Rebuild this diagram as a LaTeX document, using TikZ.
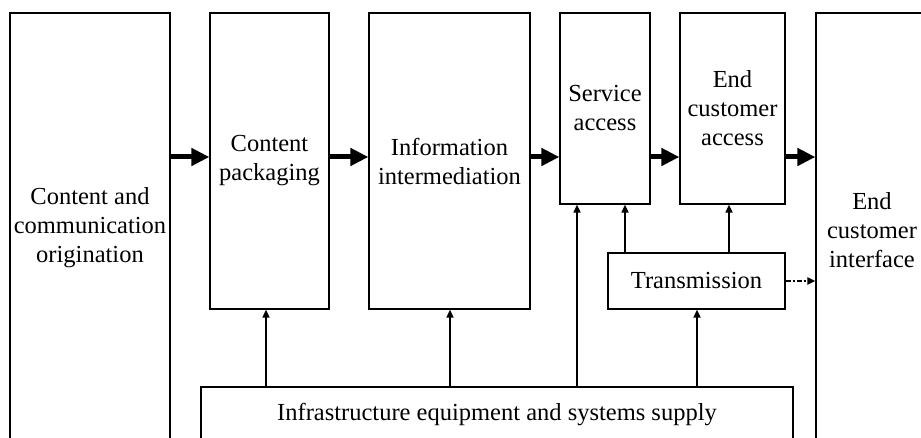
\documentclass[tikz,border=0pt]{standalone}
\usepackage{fontspec}
\setmainfont{Liberation Serif}
\usetikzlibrary{arrows.meta}
\begin{document}
\begin{tikzpicture}[x=1pt,y=-1pt,
  box/.style={draw, line width=1.2pt, align=center, inner sep=0pt, font=\fontsize{24.5}{29}\selectfont},
  thickarrow/.style={line width=5pt, -{Triangle[length=18pt,width=17pt]}},
  thinarrow/.style={line width=1.6pt, -{Triangle[length=8pt,width=7pt]}},
  dasharrow/.style={line width=2.2pt, dash pattern=on 5pt off 2pt on 2pt off 2pt, -{Triangle[length=8pt,width=7pt]}}]
\useasboundingbox (0,0) rectangle (921,438);
\clip (0,0) rectangle (921,438);
\node[box, minimum width=160pt, minimum height=430pt] (orig) at (90,228) {Content and\\communication\\origination};
\node[box, minimum width=119pt, minimum height=296pt] (pack) at (269.5,161) {Content\\packaging};
\node[box, minimum width=161pt, minimum height=296pt] (info) at (449.5,161) {Information\\intermediation};
\node[box, minimum width=90pt, minimum height=191pt] (svc) at (605,108.5) {Service\\access};
\node[box, minimum width=105pt, minimum height=191pt] (eca) at (732.5,108.5) {End\\customer\\access};
\node[box, minimum width=112pt, minimum height=434pt] (eci) at (872,230) {End\\customer\\interface};
\node[box, minimum width=177pt, minimum height=56pt] (trans) at (696.5,281) {Transmission};
\node[box, minimum width=592pt, minimum height=56pt] (infra) at (497,415) {Infrastructure equipment and systems supply};
\coordinate (ya) at (0,157);
\coordinate (x1) at (577,0);
\coordinate (x2) at (625,0);
\coordinate (x3) at (729,0);
\coordinate (x4) at (266,0);
\coordinate (x5) at (450,0);
\coordinate (x6) at (697,0);
\draw[thickarrow] (orig.east |- ya) -- (pack.west |- ya);
\draw[thickarrow] (pack.east |- ya) -- (info.west |- ya);
\draw[thickarrow] (info.east |- ya) -- (svc.west |- ya);
\draw[thickarrow] (svc.east |- ya) -- (eca.west |- ya);
\draw[thickarrow] (eca.east |- ya) -- (eci.west |- ya);
\draw[thinarrow] (infra.north -| x4) -- (pack.south -| x4);
\draw[thinarrow] (infra.north -| x5) -- (info.south -| x5);
\draw[thinarrow] (infra.north -| x1) -- (svc.south -| x1);
\draw[thinarrow] (infra.north -| x6) -- (trans.south -| x6);
\draw[thinarrow] (trans.north -| x2) -- (svc.south -| x2);
\draw[thinarrow] (trans.north -| x3) -- (eca.south -| x3);
\draw[dasharrow] (trans.east) -- (trans.east -| eci.west);
\end{tikzpicture}
\end{document}
